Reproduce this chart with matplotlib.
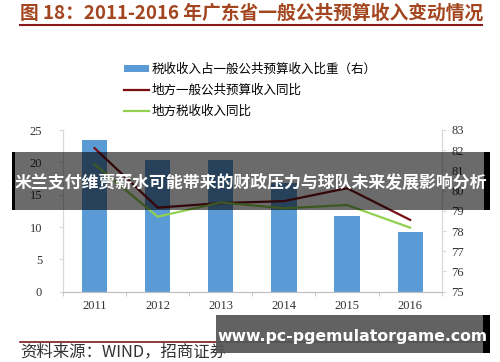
import numpy as np
import matplotlib.pyplot as plt
from matplotlib.patches import Rectangle
from matplotlib.lines import Line2D

plt.rcParams['font.family'] = ['Noto Sans CJK SC', 'DejaVu Sans']

# ---------------------------------------------------
# data
# ---------------------------------------------------
years = ['2011', '2012', '2013', '2014', '2015', '2016']
tax_share = [82.5, 81.5, 81.5, 80.4, 78.75, 77.95]      # right axis, bars
budget_yoy = [22.2, 13.0, 13.7, 14.0, 16.0, 11.1]       # left axis, red line
tax_yoy = [19.7, 11.6, 13.8, 12.9, 13.4, 9.9]           # left axis, green line

labels = ['税收收入占一般公共预算收入比重（右）', '地方一般公共预算收入同比', '地方税收收入同比']
title = '图 18：2011-2016 年广东省一般公共预算收入变动情况'
source = '资料来源：WIND，招商证券'
banner = '米兰支付维贾薪水可能带来的财政压力与球队未来发展影响分析'
site = 'www.pc-pgemulatorgame.com'

W, H = 500, 362
fig = plt.figure(figsize=(5, 3.62), dpi=100)

def fx(px):
    return px / W

def fy(py):
    return 1 - py / H

ax = fig.add_axes([fx(63), fy(291.7), fx(441.7) - fx(63), fy(130) - fy(291.7)])
ax2 = ax.twinx()
ax.set_zorder(ax2.get_zorder() + 1)
ax.patch.set_visible(False)

x = np.arange(len(years))
bars = ax2.bar(x, [v - 75 for v in tax_share], bottom=75, width=0.4, color='#5b9bd5')
l1, = ax.plot(x, budget_yoy, color='#7a0f12', lw=1.6)
l2, = ax.plot(x, tax_yoy, color='#92d050', lw=1.6)

ax.set_xlim(-0.5, 5.5)
ax.set_ylim(0, 25)
ax.set_yticks(range(0, 26, 5))
ax2.set_ylim(75, 83)
ax2.set_yticks(range(75, 84))

ax.set_xticks(x)
ax.set_xticklabels(years)
ax.set_xticks(np.arange(-0.5, 6, 1), minor=True)

serif = 'Liberation Serif'
for a in (ax, ax2):
    for s in a.spines.values():
        s.set_color('#d9d9d9')
        s.set_linewidth(0.8)
    a.spines['top'].set_visible(False)
    for lab in a.get_yticklabels() + a.get_xticklabels():
        lab.set_fontfamily(serif)
        lab.set_fontsize(9)
        lab.set_color('#333333')
ax.spines['bottom'].set_color('#bfbfbf')
ax.tick_params(axis='y', length=3, color='#d9d9d9', pad=12)
ax2.tick_params(axis='y', length=3, color='#d9d9d9', pad=4)
ax.tick_params(axis='x', which='major', length=0, pad=6)
ax.tick_params(axis='x', which='minor', length=3, color='#bfbfbf')

fig.legend([bars, l1, l2], labels, loc='upper left',
           bbox_to_anchor=(fx(118), fy(57)), frameon=False,
           fontsize=9, handlelength=2.0, handleheight=0.5,
           labelspacing=0.62, handletextpad=0.2, borderpad=0)

# title and rules
fig.text(fx(20), fy(13), title, color='#a3461f', fontsize=13.5, fontweight='bold',
         va='center', ha='left')
fig.add_artist(Line2D([fx(20), fx(482)], [fy(25), fy(25)], color='#8b1a1a', lw=1.5))
fig.add_artist(Line2D([fx(20), fx(485)], [fy(342), fy(342)], color='#7a1a1a', lw=1.2))
fig.text(fx(20), fy(352), source, color='#333333', fontsize=11.8, va='center', ha='left')

# overlay banners
fig.add_artist(Rectangle((fx(12), fy(210)), fx(478), 58 / H, color='black', alpha=0.58, lw=0, zorder=5))
fig.add_artist(Rectangle((fx(12), fy(210)), fx(3), 58 / H, color='black', lw=0, zorder=5))
fig.add_artist(Rectangle((fx(484), fy(210)), fx(6), 58 / H, color='black', lw=0, zorder=5))
fig.text(fx(251), fy(183), banner, color='white', fontsize=12.2, fontweight='bold',
         ha='center', va='center', zorder=6)

fig.add_artist(Rectangle((fx(216), fy(353)), fx(267), 38 / H, color='#555555', alpha=0.92, lw=0, zorder=5))
fig.add_artist(Rectangle((fx(483), fy(353)), fx(7), 38 / H, color='black', lw=0, zorder=5))
fig.text(fx(353), fy(337), site, color='white', fontsize=11.3, fontweight='bold',
         family='DejaVu Sans', ha='center', va='center', zorder=6)

fig.savefig('out.png', dpi=100)
